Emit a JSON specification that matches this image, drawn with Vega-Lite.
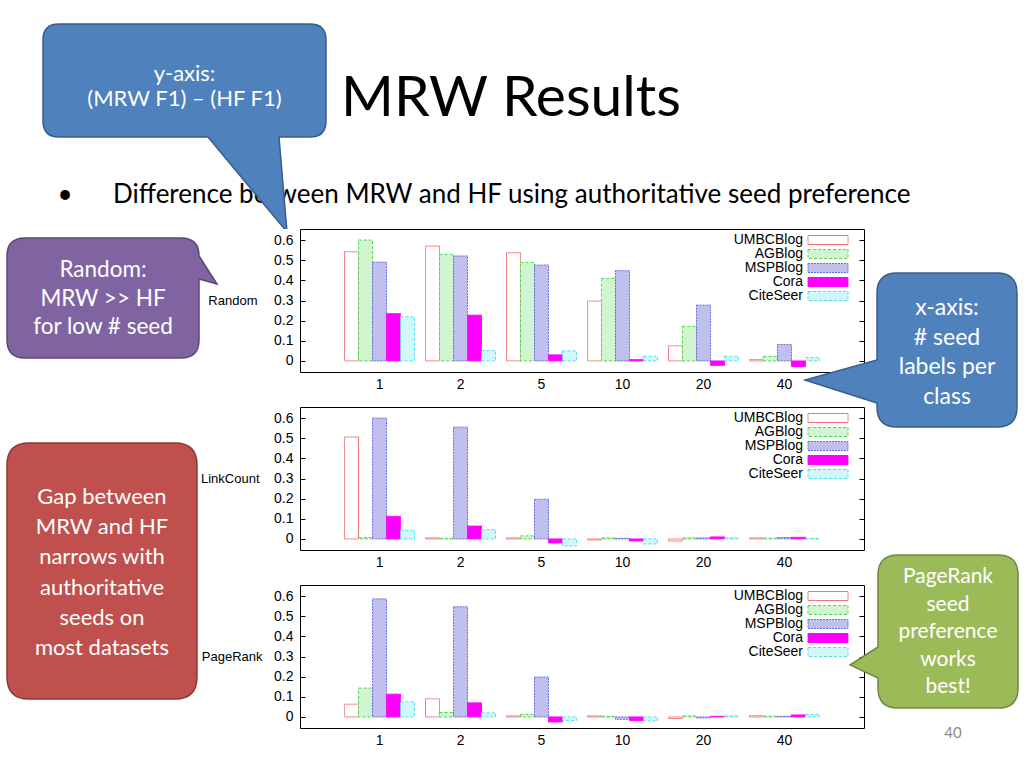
{
"$schema": "https://vega.github.io/schema/vega-lite/v6.json",
"padding": 0,
"background": "#ffffff",
"config": {"view": {"stroke": null}, "font": "Liberation Sans"},
"datasets": {"bars": [
{"panel":"Random","seeds":"1","dataset":"UMBCBlog","value":0.542},
{"panel":"Random","seeds":"1","dataset":"AGBlog","value":0.600},
{"panel":"Random","seeds":"1","dataset":"MSPBlog","value":0.490},
{"panel":"Random","seeds":"1","dataset":"Cora","value":0.235},
{"panel":"Random","seeds":"1","dataset":"CiteSeer","value":0.219},
{"panel":"Random","seeds":"2","dataset":"UMBCBlog","value":0.570},
{"panel":"Random","seeds":"2","dataset":"AGBlog","value":0.529},
{"panel":"Random","seeds":"2","dataset":"MSPBlog","value":0.521},
{"panel":"Random","seeds":"2","dataset":"Cora","value":0.227},
{"panel":"Random","seeds":"2","dataset":"CiteSeer","value":0.051},
{"panel":"Random","seeds":"5","dataset":"UMBCBlog","value":0.537},
{"panel":"Random","seeds":"5","dataset":"AGBlog","value":0.489},
{"panel":"Random","seeds":"5","dataset":"MSPBlog","value":0.476},
{"panel":"Random","seeds":"5","dataset":"Cora","value":0.030},
{"panel":"Random","seeds":"5","dataset":"CiteSeer","value":0.050},
{"panel":"Random","seeds":"10","dataset":"UMBCBlog","value":0.297},
{"panel":"Random","seeds":"10","dataset":"AGBlog","value":0.410},
{"panel":"Random","seeds":"10","dataset":"MSPBlog","value":0.448},
{"panel":"Random","seeds":"10","dataset":"Cora","value":0.007},
{"panel":"Random","seeds":"10","dataset":"CiteSeer","value":0.023},
{"panel":"Random","seeds":"20","dataset":"UMBCBlog","value":0.075},
{"panel":"Random","seeds":"20","dataset":"AGBlog","value":0.172},
{"panel":"Random","seeds":"20","dataset":"MSPBlog","value":0.277},
{"panel":"Random","seeds":"20","dataset":"Cora","value":-0.022},
{"panel":"Random","seeds":"20","dataset":"CiteSeer","value":0.023},
{"panel":"Random","seeds":"40","dataset":"UMBCBlog","value":0.007},
{"panel":"Random","seeds":"40","dataset":"AGBlog","value":0.023},
{"panel":"Random","seeds":"40","dataset":"MSPBlog","value":0.081},
{"panel":"Random","seeds":"40","dataset":"Cora","value":-0.028},
{"panel":"Random","seeds":"40","dataset":"CiteSeer","value":0.017},
{"panel":"LinkCount","seeds":"1","dataset":"UMBCBlog","value":0.506},
{"panel":"LinkCount","seeds":"1","dataset":"AGBlog","value":0.007},
{"panel":"LinkCount","seeds":"1","dataset":"MSPBlog","value":0.600},
{"panel":"LinkCount","seeds":"1","dataset":"Cora","value":0.112},
{"panel":"LinkCount","seeds":"1","dataset":"CiteSeer","value":0.043},
{"panel":"LinkCount","seeds":"2","dataset":"UMBCBlog","value":0.005},
{"panel":"LinkCount","seeds":"2","dataset":"AGBlog","value":0.003},
{"panel":"LinkCount","seeds":"2","dataset":"MSPBlog","value":0.555},
{"panel":"LinkCount","seeds":"2","dataset":"Cora","value":0.064},
{"panel":"LinkCount","seeds":"2","dataset":"CiteSeer","value":0.046},
{"panel":"LinkCount","seeds":"5","dataset":"UMBCBlog","value":0.005},
{"panel":"LinkCount","seeds":"5","dataset":"AGBlog","value":0.015},
{"panel":"LinkCount","seeds":"5","dataset":"MSPBlog","value":0.197},
{"panel":"LinkCount","seeds":"5","dataset":"Cora","value":-0.020},
{"panel":"LinkCount","seeds":"5","dataset":"CiteSeer","value":-0.035},
{"panel":"LinkCount","seeds":"10","dataset":"UMBCBlog","value":-0.005},
{"panel":"LinkCount","seeds":"10","dataset":"AGBlog","value":0.005},
{"panel":"LinkCount","seeds":"10","dataset":"MSPBlog","value":0.003},
{"panel":"LinkCount","seeds":"10","dataset":"Cora","value":-0.010},
{"panel":"LinkCount","seeds":"10","dataset":"CiteSeer","value":-0.025},
{"panel":"LinkCount","seeds":"20","dataset":"UMBCBlog","value":-0.010},
{"panel":"LinkCount","seeds":"20","dataset":"AGBlog","value":0.005},
{"panel":"LinkCount","seeds":"20","dataset":"MSPBlog","value":0.005},
{"panel":"LinkCount","seeds":"20","dataset":"Cora","value":0.010},
{"panel":"LinkCount","seeds":"20","dataset":"CiteSeer","value":0.005},
{"panel":"LinkCount","seeds":"40","dataset":"UMBCBlog","value":0.005},
{"panel":"LinkCount","seeds":"40","dataset":"AGBlog","value":0.004},
{"panel":"LinkCount","seeds":"40","dataset":"MSPBlog","value":0.007},
{"panel":"LinkCount","seeds":"40","dataset":"Cora","value":0.008},
{"panel":"LinkCount","seeds":"40","dataset":"CiteSeer","value":0.002},
{"panel":"PageRank","seeds":"1","dataset":"UMBCBlog","value":0.063},
{"panel":"PageRank","seeds":"1","dataset":"AGBlog","value":0.143},
{"panel":"PageRank","seeds":"1","dataset":"MSPBlog","value":0.586},
{"panel":"PageRank","seeds":"1","dataset":"Cora","value":0.113},
{"panel":"PageRank","seeds":"1","dataset":"CiteSeer","value":0.075},
{"panel":"PageRank","seeds":"2","dataset":"UMBCBlog","value":0.090},
{"panel":"PageRank","seeds":"2","dataset":"AGBlog","value":0.022},
{"panel":"PageRank","seeds":"2","dataset":"MSPBlog","value":0.547},
{"panel":"PageRank","seeds":"2","dataset":"Cora","value":0.070},
{"panel":"PageRank","seeds":"2","dataset":"CiteSeer","value":0.020},
{"panel":"PageRank","seeds":"5","dataset":"UMBCBlog","value":0.005},
{"panel":"PageRank","seeds":"5","dataset":"AGBlog","value":0.013},
{"panel":"PageRank","seeds":"5","dataset":"MSPBlog","value":0.198},
{"panel":"PageRank","seeds":"5","dataset":"Cora","value":-0.025},
{"panel":"PageRank","seeds":"5","dataset":"CiteSeer","value":-0.018},
{"panel":"PageRank","seeds":"10","dataset":"UMBCBlog","value":0.005},
{"panel":"PageRank","seeds":"10","dataset":"AGBlog","value":0.003},
{"panel":"PageRank","seeds":"10","dataset":"MSPBlog","value":-0.012},
{"panel":"PageRank","seeds":"10","dataset":"Cora","value":-0.018},
{"panel":"PageRank","seeds":"10","dataset":"CiteSeer","value":-0.020},
{"panel":"PageRank","seeds":"20","dataset":"UMBCBlog","value":-0.008},
{"panel":"PageRank","seeds":"20","dataset":"AGBlog","value":0.005},
{"panel":"PageRank","seeds":"20","dataset":"MSPBlog","value":-0.005},
{"panel":"PageRank","seeds":"20","dataset":"Cora","value":0.003},
{"panel":"PageRank","seeds":"20","dataset":"CiteSeer","value":0.005},
{"panel":"PageRank","seeds":"40","dataset":"UMBCBlog","value":0.006},
{"panel":"PageRank","seeds":"40","dataset":"AGBlog","value":0.004},
{"panel":"PageRank","seeds":"40","dataset":"MSPBlog","value":0.003},
{"panel":"PageRank","seeds":"40","dataset":"Cora","value":0.010},
{"panel":"PageRank","seeds":"40","dataset":"CiteSeer","value":0.013}
]},
"vconcat": [
{
 "width": 1024, "height": 229,
 "view": {"fill": "#ffffff", "stroke": null},
 "data": {"values": [{}]},
 "layer": [
  {"mark": {"type": "text", "text": "MRW Results", "font": "Lato", "fontSize": 57, "align": "center", "baseline": "alphabetic", "color": "#000000"},
   "encoding": {"x": {"datum": 511, "type": "quantitative", "scale": {"domain": [0, 1024], "nice": false, "zero": false}, "axis": null},
                "y": {"datum": 116, "type": "quantitative", "scale": {"domain": [0, 229], "nice": false, "zero": false, "reverse": true}, "axis": null}}},
  {"mark": {"type": "text", "text": "•", "font": "Lato", "fontSize": 26, "align": "center", "baseline": "alphabetic", "color": "#000000"},
   "encoding": {"x": {"datum": 65, "type": "quantitative", "scale": {"domain": [0, 1024], "nice": false, "zero": false}, "axis": null},
                "y": {"datum": 203, "type": "quantitative", "scale": {"domain": [0, 229], "nice": false, "zero": false, "reverse": true}, "axis": null}}},
  {"mark": {"type": "text", "text": "Difference between MRW and HF using authoritative seed preference", "font": "Lato", "fontSize": 26, "align": "left", "baseline": "alphabetic", "color": "#000000"},
   "encoding": {"x": {"datum": 113, "type": "quantitative", "scale": {"domain": [0, 1024], "nice": false, "zero": false}, "axis": null},
                "y": {"datum": 203, "type": "quantitative", "scale": {"domain": [0, 229], "nice": false, "zero": false, "reverse": true}, "axis": null}}},
  {"mark": {"type": "point", "shape": "M-125.5,-56.5H125.5Q141.5,-56.5 141.5,-40.5V40.5Q141.5,56.5 125.5,56.5H94.5L102.5,151.5L23.5,56.5H-125.5Q-141.5,56.5 -141.5,40.5V-40.5Q-141.5,-56.5 -125.5,-56.5Z", "size": 4, "filled": true, "fill": "#4f81bd", "stroke": "#385d8a", "strokeWidth": 1.5, "opacity": 1},
   "encoding": {"x": {"datum": 184.5, "type": "quantitative", "scale": {"domain": [0, 1024], "nice": false, "zero": false}, "axis": null},
                "y": {"datum": 80.5, "type": "quantitative", "scale": {"domain": [0, 229], "nice": false, "zero": false, "reverse": true}, "axis": null}}},
  {"mark": {"type": "text", "text": ["y-axis:", "(MRW F1) – (HF F1)"], "lineHeight": 25, "font": "Lato", "fontSize": 22, "align": "center", "baseline": "middle", "color": "#ffffff"},
   "encoding": {"x": {"datum": 184.5, "type": "quantitative", "scale": {"domain": [0, 1024], "nice": false, "zero": false}, "axis": null},
                "y": {"datum": 74, "type": "quantitative", "scale": {"domain": [0, 229], "nice": false, "zero": false, "reverse": true}, "axis": null}}}
 ]
},
{
 "hconcat": [
  {
   "width": 300, "height": 539,
   "view": {"fill": "#ffffff", "stroke": null},
   "data": {"values": [{}]},
   "layer": [
    {"mark": {"type": "point", "shape": "M-78,-60H78Q96,-60 96,-42L114,-14L96,-19V42Q96,60 78,60H-78Q-96,60 -96,42V-42Q-96,-60 -78,-60Z", "size": 4, "filled": true, "fill": "#8064a2", "stroke": "#5c4776", "strokeWidth": 1.5, "opacity": 1},
     "encoding": {"x": {"datum": 103, "type": "quantitative", "scale": {"domain": [0, 300], "nice": false, "zero": false}, "axis": null},
                  "y": {"datum": 298, "type": "quantitative", "scale": {"domain": [229, 768], "nice": false, "zero": false, "reverse": true}, "axis": null}}},
    {"mark": {"type": "text", "text": ["Random:", "MRW >> HF", "for low # seed"], "lineHeight": 28.5, "font": "Lato", "fontSize": 22.5, "align": "center", "baseline": "middle", "color": "#ffffff"},
     "encoding": {"x": {"datum": 103, "type": "quantitative", "scale": {"domain": [0, 300], "nice": false, "zero": false}, "axis": null},
                  "y": {"datum": 270, "type": "quantitative", "scale": {"domain": [229, 768], "nice": false, "zero": false, "reverse": true}, "axis": null}}},
    {"mark": {"type": "point", "shape": "M-73,-128H73Q95,-128 95,-106V106Q95,128 73,128H-73Q-95,128 -95,106V-106Q-95,-128 -73,-128Z", "size": 4, "filled": true, "fill": "#c0504d", "stroke": "#8c3836", "strokeWidth": 1.5, "opacity": 1},
     "encoding": {"x": {"datum": 102, "type": "quantitative", "scale": {"domain": [0, 300], "nice": false, "zero": false}, "axis": null},
                  "y": {"datum": 571, "type": "quantitative", "scale": {"domain": [229, 768], "nice": false, "zero": false, "reverse": true}, "axis": null}}},
    {"mark": {"type": "text", "text": ["Gap between", "MRW and HF", "narrows with", "authoritative", "seeds on", "most datasets"], "lineHeight": 30.2, "font": "Lato", "fontSize": 22, "align": "center", "baseline": "middle", "color": "#ffffff"},
     "encoding": {"x": {"datum": 102, "type": "quantitative", "scale": {"domain": [0, 300], "nice": false, "zero": false}, "axis": null},
                  "y": {"datum": 497, "type": "quantitative", "scale": {"domain": [229, 768], "nice": false, "zero": false, "reverse": true}, "axis": null}}}
   ]
  },
  {
   "vconcat": [
    {
     "width": 564, "height": 143,
     "view": {"stroke": "#000000", "strokeWidth": 1},
     "data": {"name": "bars"},
     "transform": [{"filter": "datum.panel === 'Random'"}],
     "resolve": {"axis": {"y": "independent"}},
     "layer": [
      {"mark": {"type": "bar", "strokeWidth": 1},
       "encoding": {
        "x": {"field": "seeds", "type": "ordinal", "sort": ["1","2","5","10","20","40"], "scale": {"paddingInner": 0.136, "paddingOuter": 0.55}, "axis": {"title": null, "ticks": false, "domain": false, "labelAngle": 0, "labelFont": "Liberation Sans", "labelFontSize": 14, "labelColor": "#000000", "labelPadding": 5}},
        "xOffset": {"field": "dataset", "type": "nominal", "sort": ["UMBCBlog","AGBlog","MSPBlog","Cora","CiteSeer"], "scale": {"paddingInner": 0, "paddingOuter": 0}},
        "y": {"field": "value", "type": "quantitative", "scale": {"domain": [-0.055, 0.655], "nice": false, "zero": false}, "axis": {"title": "Random", "titleAngle": 0, "titleAlign": "right", "titleBaseline": "middle", "titleX": -43, "titleY": 71.5, "titleFont": "Liberation Sans", "titleFontSize": 13, "titleFontWeight": "normal", "titleColor": "#000000", "values": [0,0.1,0.2,0.3,0.4,0.5,0.6], "labelExpr": "datum.value == 0 ? '0' : format(datum.value, '.1f')", "labelFont": "Liberation Sans", "labelFontSize": 14, "labelColor": "#000000", "labelPadding": 12, "tickSize": -5, "tickColor": "#000000", "domain": false, "grid": false}},
        "y2": {"datum": 0},
        "fill": {"field": "dataset", "type": "nominal", "scale": {"domain": ["UMBCBlog","AGBlog","MSPBlog","Cora","CiteSeer"], "range": ["#ffffff","#d0f5d0","#c0c0ee","#ff00ff","#d0f8fa"]},
                 "legend": {"title": null, "orient": "none", "legendX": 521, "legendY": 4, "padding": 0, "symbolType": "M-4,-0.9H4V0.9H-4Z", "symbolSize": 100, "symbolStrokeWidth": 1, "labelAlign": "right", "labelOffset": -32, "labelFont": "Liberation Sans", "labelFontSize": 14, "labelColor": "#000000", "labelLimit": 300, "rowPadding": 0}},
        "stroke": {"field": "dataset", "type": "nominal", "scale": {"domain": ["UMBCBlog","AGBlog","MSPBlog","Cora","CiteSeer"], "range": ["#f07878","#4fd84f","#6a6ae0","#ff00ff","#50dde8"]}},
        "strokeDash": {"field": "dataset", "type": "nominal", "scale": {"domain": ["UMBCBlog","AGBlog","MSPBlog","Cora","CiteSeer"], "range": [[1,0],[3,2],[2,1],[1,0],[3,2]]}}
       }},
      {"mark": {"type": "rule", "strokeOpacity": 0},
       "encoding": {"y": {"field": "value", "type": "quantitative", "scale": {"domain": [-0.055, 0.655], "nice": false, "zero": false}, "axis": {"orient": "right", "title": null, "labels": false, "domain": false, "grid": false, "values": [0,0.1,0.2,0.3,0.4,0.5,0.6], "tickSize": -5, "tickColor": "#000000"}}}}
     ]
    },
    {
     "width": 564, "height": 143,
     "view": {"stroke": "#000000", "strokeWidth": 1},
     "data": {"name": "bars"},
     "transform": [{"filter": "datum.panel === 'LinkCount'"}],
     "resolve": {"axis": {"y": "independent"}},
     "layer": [
      {"mark": {"type": "bar", "strokeWidth": 1},
       "encoding": {
        "x": {"field": "seeds", "type": "ordinal", "sort": ["1","2","5","10","20","40"], "scale": {"paddingInner": 0.136, "paddingOuter": 0.55}, "axis": {"title": null, "ticks": false, "domain": false, "labelAngle": 0, "labelFont": "Liberation Sans", "labelFontSize": 14, "labelColor": "#000000", "labelPadding": 5}},
        "xOffset": {"field": "dataset", "type": "nominal", "sort": ["UMBCBlog","AGBlog","MSPBlog","Cora","CiteSeer"], "scale": {"paddingInner": 0, "paddingOuter": 0}},
        "y": {"field": "value", "type": "quantitative", "scale": {"domain": [-0.055, 0.655], "nice": false, "zero": false}, "axis": {"title": "LinkCount", "titleAngle": 0, "titleAlign": "right", "titleBaseline": "middle", "titleX": -41, "titleY": 71.5, "titleFont": "Liberation Sans", "titleFontSize": 13, "titleFontWeight": "normal", "titleColor": "#000000", "values": [0,0.1,0.2,0.3,0.4,0.5,0.6], "labelExpr": "datum.value == 0 ? '0' : format(datum.value, '.1f')", "labelFont": "Liberation Sans", "labelFontSize": 14, "labelColor": "#000000", "labelPadding": 12, "tickSize": -5, "tickColor": "#000000", "domain": false, "grid": false}},
        "y2": {"datum": 0},
        "fill": {"field": "dataset", "type": "nominal", "scale": {"domain": ["UMBCBlog","AGBlog","MSPBlog","Cora","CiteSeer"], "range": ["#ffffff","#d0f5d0","#c0c0ee","#ff00ff","#d0f8fa"]},
                 "legend": {"title": null, "orient": "none", "legendX": 521, "legendY": 4, "padding": 0, "symbolType": "M-4,-0.9H4V0.9H-4Z", "symbolSize": 100, "symbolStrokeWidth": 1, "labelAlign": "right", "labelOffset": -32, "labelFont": "Liberation Sans", "labelFontSize": 14, "labelColor": "#000000", "labelLimit": 300, "rowPadding": 0}},
        "stroke": {"field": "dataset", "type": "nominal", "scale": {"domain": ["UMBCBlog","AGBlog","MSPBlog","Cora","CiteSeer"], "range": ["#f07878","#4fd84f","#6a6ae0","#ff00ff","#50dde8"]}},
        "strokeDash": {"field": "dataset", "type": "nominal", "scale": {"domain": ["UMBCBlog","AGBlog","MSPBlog","Cora","CiteSeer"], "range": [[1,0],[3,2],[2,1],[1,0],[3,2]]}}
       }},
      {"mark": {"type": "rule", "strokeOpacity": 0},
       "encoding": {"y": {"field": "value", "type": "quantitative", "scale": {"domain": [-0.055, 0.655], "nice": false, "zero": false}, "axis": {"orient": "right", "title": null, "labels": false, "domain": false, "grid": false, "values": [0,0.1,0.2,0.3,0.4,0.5,0.6], "tickSize": -5, "tickColor": "#000000"}}}}
     ]
    },
    {
     "width": 564, "height": 143,
     "view": {"stroke": "#000000", "strokeWidth": 1},
     "data": {"name": "bars"},
     "transform": [{"filter": "datum.panel === 'PageRank'"}],
     "resolve": {"axis": {"y": "independent"}},
     "layer": [
      {"mark": {"type": "bar", "strokeWidth": 1},
       "encoding": {
        "x": {"field": "seeds", "type": "ordinal", "sort": ["1","2","5","10","20","40"], "scale": {"paddingInner": 0.136, "paddingOuter": 0.55}, "axis": {"title": null, "ticks": false, "domain": false, "labelAngle": 0, "labelFont": "Liberation Sans", "labelFontSize": 14, "labelColor": "#000000", "labelPadding": 5}},
        "xOffset": {"field": "dataset", "type": "nominal", "sort": ["UMBCBlog","AGBlog","MSPBlog","Cora","CiteSeer"], "scale": {"paddingInner": 0, "paddingOuter": 0}},
        "y": {"field": "value", "type": "quantitative", "scale": {"domain": [-0.055, 0.655], "nice": false, "zero": false}, "axis": {"title": "PageRank", "titleAngle": 0, "titleAlign": "right", "titleBaseline": "middle", "titleX": -38, "titleY": 71.5, "titleFont": "Liberation Sans", "titleFontSize": 13, "titleFontWeight": "normal", "titleColor": "#000000", "values": [0,0.1,0.2,0.3,0.4,0.5,0.6], "labelExpr": "datum.value == 0 ? '0' : format(datum.value, '.1f')", "labelFont": "Liberation Sans", "labelFontSize": 14, "labelColor": "#000000", "labelPadding": 12, "tickSize": -5, "tickColor": "#000000", "domain": false, "grid": false}},
        "y2": {"datum": 0},
        "fill": {"field": "dataset", "type": "nominal", "scale": {"domain": ["UMBCBlog","AGBlog","MSPBlog","Cora","CiteSeer"], "range": ["#ffffff","#d0f5d0","#c0c0ee","#ff00ff","#d0f8fa"]},
                 "legend": {"title": null, "orient": "none", "legendX": 521, "legendY": 4, "padding": 0, "symbolType": "M-4,-0.9H4V0.9H-4Z", "symbolSize": 100, "symbolStrokeWidth": 1, "labelAlign": "right", "labelOffset": -32, "labelFont": "Liberation Sans", "labelFontSize": 14, "labelColor": "#000000", "labelLimit": 300, "rowPadding": 0}},
        "stroke": {"field": "dataset", "type": "nominal", "scale": {"domain": ["UMBCBlog","AGBlog","MSPBlog","Cora","CiteSeer"], "range": ["#f07878","#4fd84f","#6a6ae0","#ff00ff","#50dde8"]}},
        "strokeDash": {"field": "dataset", "type": "nominal", "scale": {"domain": ["UMBCBlog","AGBlog","MSPBlog","Cora","CiteSeer"], "range": [[1,0],[3,2],[2,1],[1,0],[3,2]]}}
       }},
      {"mark": {"type": "rule", "strokeOpacity": 0},
       "encoding": {"y": {"field": "value", "type": "quantitative", "scale": {"domain": [-0.055, 0.655], "nice": false, "zero": false}, "axis": {"orient": "right", "title": null, "labels": false, "domain": false, "grid": false, "values": [0,0.1,0.2,0.3,0.4,0.5,0.6], "tickSize": -5, "tickColor": "#000000"}}}}
     ]
    }
   ],
   "spacing": 35,
   "bounds": "flush",
   "resolve": {"scale": {"fill": "independent", "stroke": "independent", "strokeDash": "independent"}, "legend": {"fill": "independent", "stroke": "independent", "strokeDash": "independent"}}
  },
  {
   "width": 160, "height": 539,
   "view": {"stroke": null},
   "data": {"values": [{}]},
   "layer": [
    {"mark": {"type": "point", "shape": "M-50,-77H50Q70,-77 70,-57V57Q70,77 50,77H-50Q-70,77 -70,57L-70,53L-142,30L-70,10V-57Q-70,-77 -50,-77Z", "size": 4, "filled": true, "fill": "#4f81bd", "stroke": "#385d8a", "strokeWidth": 1.5, "opacity": 1},
     "encoding": {"x": {"datum": 947, "type": "quantitative", "scale": {"domain": [300, 460], "nice": false, "zero": false}, "axis": null},
                  "y": {"datum": 350, "type": "quantitative", "scale": {"domain": [229, 768], "nice": false, "zero": false, "reverse": true}, "axis": null}}},
    {"mark": {"type": "text", "text": ["x-axis:", "# seed", "labels per", "class"], "lineHeight": 29.7, "font": "Lato", "fontSize": 23, "align": "center", "baseline": "middle", "color": "#ffffff"},
     "encoding": {"x": {"datum": 947, "type": "quantitative", "scale": {"domain": [300, 460], "nice": false, "zero": false}, "axis": null},
                  "y": {"datum": 308, "type": "quantitative", "scale": {"domain": [229, 768], "nice": false, "zero": false, "reverse": true}, "axis": null}}},
    {"mark": {"type": "point", "shape": "M-50,-76.5H50Q70,-76.5 70,-56.5V56.5Q70,76.5 50,76.5H-50Q-70,76.5 -70,56.5V46.5L-98,33.5L-70,15.5V-56.5Q-70,-76.5 -50,-76.5Z", "size": 4, "filled": true, "fill": "#9bbb59", "stroke": "#71893f", "strokeWidth": 1.5, "opacity": 1},
     "encoding": {"x": {"datum": 948, "type": "quantitative", "scale": {"domain": [300, 460], "nice": false, "zero": false}, "axis": null},
                  "y": {"datum": 631.5, "type": "quantitative", "scale": {"domain": [229, 768], "nice": false, "zero": false, "reverse": true}, "axis": null}}},
    {"mark": {"type": "text", "text": ["PageRank", "seed", "preference", "works", "best!"], "lineHeight": 27.5, "font": "Lato", "fontSize": 21, "align": "center", "baseline": "middle", "color": "#ffffff"},
     "encoding": {"x": {"datum": 948, "type": "quantitative", "scale": {"domain": [300, 460], "nice": false, "zero": false}, "axis": null},
                  "y": {"datum": 577, "type": "quantitative", "scale": {"domain": [229, 768], "nice": false, "zero": false, "reverse": true}, "axis": null}}},
    {"mark": {"type": "text", "text": "40", "font": "Lato", "fontSize": 15, "align": "center", "baseline": "middle", "color": "#8b8b8b"},
     "encoding": {"x": {"datum": 953, "type": "quantitative", "scale": {"domain": [300, 460], "nice": false, "zero": false}, "axis": null},
                  "y": {"datum": 733, "type": "quantitative", "scale": {"domain": [229, 768], "nice": false, "zero": false, "reverse": true}, "axis": null}}}
   ]
  }
 ],
 "spacing": 0,
 "bounds": "flush"
}
],
"spacing": 0,
"bounds": "flush"
}
